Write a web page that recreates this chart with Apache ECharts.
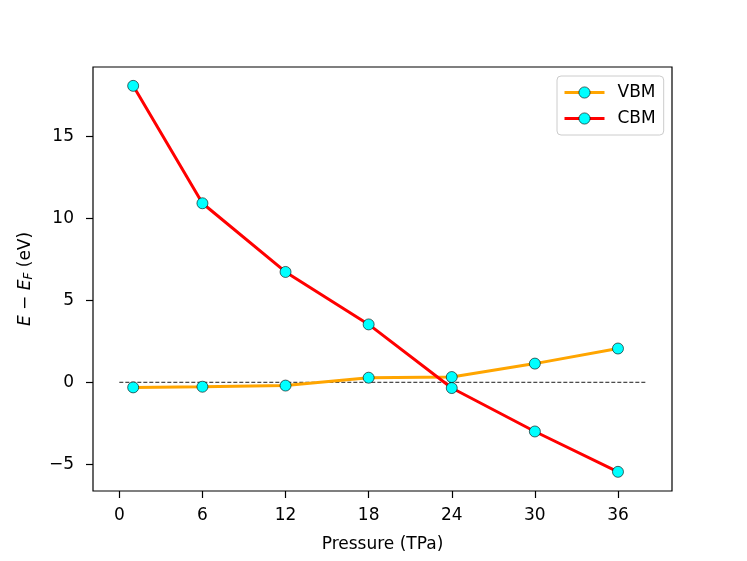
<!DOCTYPE html>
<html>
<head>
<meta charset="utf-8">
<script src="https://cdn.jsdelivr.net/npm/echarts@6/dist/echarts.min.js"></script>
<style>
  html, body { margin: 0; padding: 0; background: #fff; }
  #chart { width: 747px; height: 561px; }
</style>
</head>
<body>
<div id="chart"></div>
<script>
const pressure = [1, 6, 12, 18, 24, 30, 36];
const vbm = [-0.31, -0.27, -0.2, 0.28, 0.32, 1.14, 2.06];
const cbm = [18.08, 10.92, 6.73, 3.53, -0.35, -3.0, -5.46];
const xTicks = [0, 6, 12, 18, 24, 30, 36];
const yTicks = [-5, 0, 5, 10, 15];
const zeroLine = [[0, 0], [38, 0]];

const font = "DejaVu Sans";
const fs = 17;
const chart = echarts.init(document.getElementById("chart"));

const pairs = (ys) => pressure.map((x, i) => [x, ys[i]]);
// matplotlib style minus sign
const minus = (v) => String(v).replace("-", "\u2212");

chart.setOption({
  animation: false,
  backgroundColor: "#fff",
  textStyle: { fontFamily: font },
  grid: {
    left: 93, right: 75, top: 67, bottom: 70,
    show: true, borderColor: "#000", borderWidth: 1.2, backgroundColor: "#fff",
  },
  legend: {
    data: ["VBM", "CBM"],
    orient: "vertical",
    left: 557,
    top: 76,
    padding: [8, 8, 8, 6],
    itemWidth: 40,
    itemHeight: 14,
    itemGap: 9,
    borderColor: "#ccc",
    borderWidth: 1,
    borderRadius: 4,
    backgroundColor: "rgba(255,255,255,0.8)",
    itemStyle: { borderWidth: 0.6, borderColor: "#000" },
    lineStyle: { width: 3 },
    textStyle: { fontFamily: font, fontSize: fs, color: "#000", padding: [0, 0, 0, 8] },
  },
  xAxis: {
    type: "value",
    min: -1.9,
    max: 39.9,
    name: "Pressure (TPa)",
    nameLocation: "middle",
    nameGap: 45,
    nameTextStyle: { fontFamily: font, fontSize: fs, color: "#000" },
    axisLine: { show: false, onZero: false },
    axisTick: { show: true, customValues: xTicks, length: 7, lineStyle: { color: "#000", width: 1.2 } },
    axisLabel: { customValues: xTicks, fontSize: fs, color: "#000", margin: 16, formatter: minus },
    splitLine: { show: false },
  },
  yAxis: {
    type: "value",
    min: -6.63,
    max: 19.23,
    name: "{i|E} \u2212 {i|E}{s|F} (eV)",
    nameLocation: "middle",
    nameGap: 58,
    nameRotate: 90,
    nameTextStyle: {
      fontFamily: font, fontSize: fs, color: "#000",
      rich: {
        i: { fontFamily: font, fontSize: fs, fontStyle: "italic", color: "#000" },
        s: { fontFamily: font, fontSize: 12, fontStyle: "italic", color: "#000", verticalAlign: "bottom", padding: [7, 0, 0, 0] },
      },
    },
    axisLine: { show: false, onZero: false },
    axisTick: { show: true, customValues: yTicks, length: 7, lineStyle: { color: "#000", width: 1.2 } },
    axisLabel: { customValues: yTicks, fontSize: fs, color: "#000", margin: 19, formatter: minus },
    splitLine: { show: false },
  },
  series: [
    {
      name: "zero",
      type: "line",
      data: zeroLine,
      symbol: "none",
      lineStyle: { color: "#000", width: 0.9, type: [4, 2] },
      silent: true,
      z: 1,
    },
    {
      name: "VBM",
      type: "line",
      data: pairs(vbm),
      symbol: "circle",
      symbolSize: 11,
      lineStyle: { color: "#ffa500", width: 3 },
      itemStyle: { color: "#00ffff", borderColor: "#000", borderWidth: 0.6 },
      z: 2,
    },
    {
      name: "CBM",
      type: "line",
      data: pairs(cbm),
      symbol: "circle",
      symbolSize: 11,
      lineStyle: { color: "#ff0000", width: 3 },
      itemStyle: { color: "#00ffff", borderColor: "#000", borderWidth: 0.6 },
      z: 3,
    },
  ],
});
</script>
</body>
</html>
